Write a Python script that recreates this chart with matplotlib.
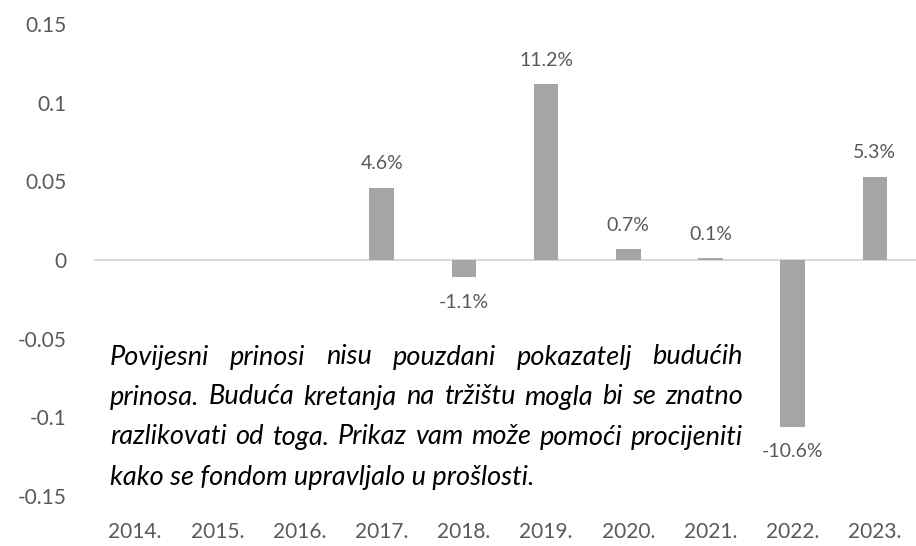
import matplotlib
matplotlib.use('Agg')
import matplotlib.pyplot as plt
import numpy as np

years = ['2014.', '2015.', '2016.', '2017.', '2018.', '2019.', '2020.', '2021.', '2022.', '2023.']
returns = [np.nan, np.nan, np.nan, 0.046, -0.011, 0.112, 0.007, 0.001, -0.106, 0.053]
labels = ['', '', '', '4.6%', '-1.1%', '11.2%', '0.7%', '0.1%', '-10.6%', '5.3%']
yticks = [0.15, 0.1, 0.05, 0, -0.05, -0.1, -0.15]
ytick_labels = ['0.15', '0.1', '0.05', '0', '-0.05', '-0.1', '-0.15']

note_lines = [
    'Povijesni prinosi nisu pouzdani pokazatelj budućih',
    'prinosa. Buduća kretanja na tržištu mogla bi se znatno',
    'razlikovati od toga. Prikaz vam može pomoći procijeniti',
    'kako se fondom upravljalo u prošlosti.',
]

FONT = 'Lato'
TXT = '#595959'

fig = plt.figure(figsize=(9.16, 5.46), dpi=100)
ax = fig.add_axes([94 / 916, 50 / 546, 822 / 916, 472 / 546])

x = np.arange(len(years))
ax.bar(x, returns, width=0.3, color='#a5a5a5', zorder=2)
ax.axhline(0, color='#d9d9d9', lw=1.5, zorder=1)

ax.set_xlim(-0.5, len(years) - 0.5)
ax.set_ylim(-0.15, 0.15)
ax.set_yticks(yticks)
ax.set_yticklabels(ytick_labels, family=FONT, fontsize=15, color=TXT)
ax.set_xticks(x)
ax.set_xticklabels(years, family=FONT, fontsize=15, color=TXT)
ax.tick_params(length=0)
ax.tick_params(axis='y', pad=20)
ax.tick_params(axis='x', pad=19)
for s in ax.spines.values():
    s.set_visible(False)

for xi, v, lab in zip(x, returns, labels):
    if np.isnan(v):
        continue
    if v >= 0:
        ax.annotate(lab, (xi, v), xytext=(0, 11), textcoords='offset points',
                    ha='center', va='bottom', family=FONT, fontsize=14, color=TXT)
    else:
        ax.annotate(lab, (xi, v), xytext=(0, -12), textcoords='offset points',
                    ha='center', va='top', family=FONT, fontsize=14, color=TXT)

# justified italic note
fig.canvas.draw()
renderer = fig.canvas.get_renderer()
left_px, right_px = 110, 743
top_px = 357
line_h = 40
for i, line in enumerate(note_lines):
    y_px = 546 - (top_px + i * line_h)
    words = line.split(' ')
    if i == len(note_lines) - 1:
        fig.text(left_px / 916, y_px / 546, line, family=FONT, style='italic',
                 fontsize=19.5, color='black', ha='left', va='center')
        continue
    objs = [fig.text(0, y_px / 546, w, family=FONT, style='italic', fontsize=19.5,
                     color='black', ha='left', va='center') for w in words]
    widths = [o.get_window_extent(renderer).width for o in objs]
    gap = (right_px - left_px - sum(widths)) / (len(words) - 1)
    pos = left_px
    for o, w in zip(objs, widths):
        o.set_x(pos / 916)
        pos += w + gap

fig.savefig('out.png', dpi=100)
